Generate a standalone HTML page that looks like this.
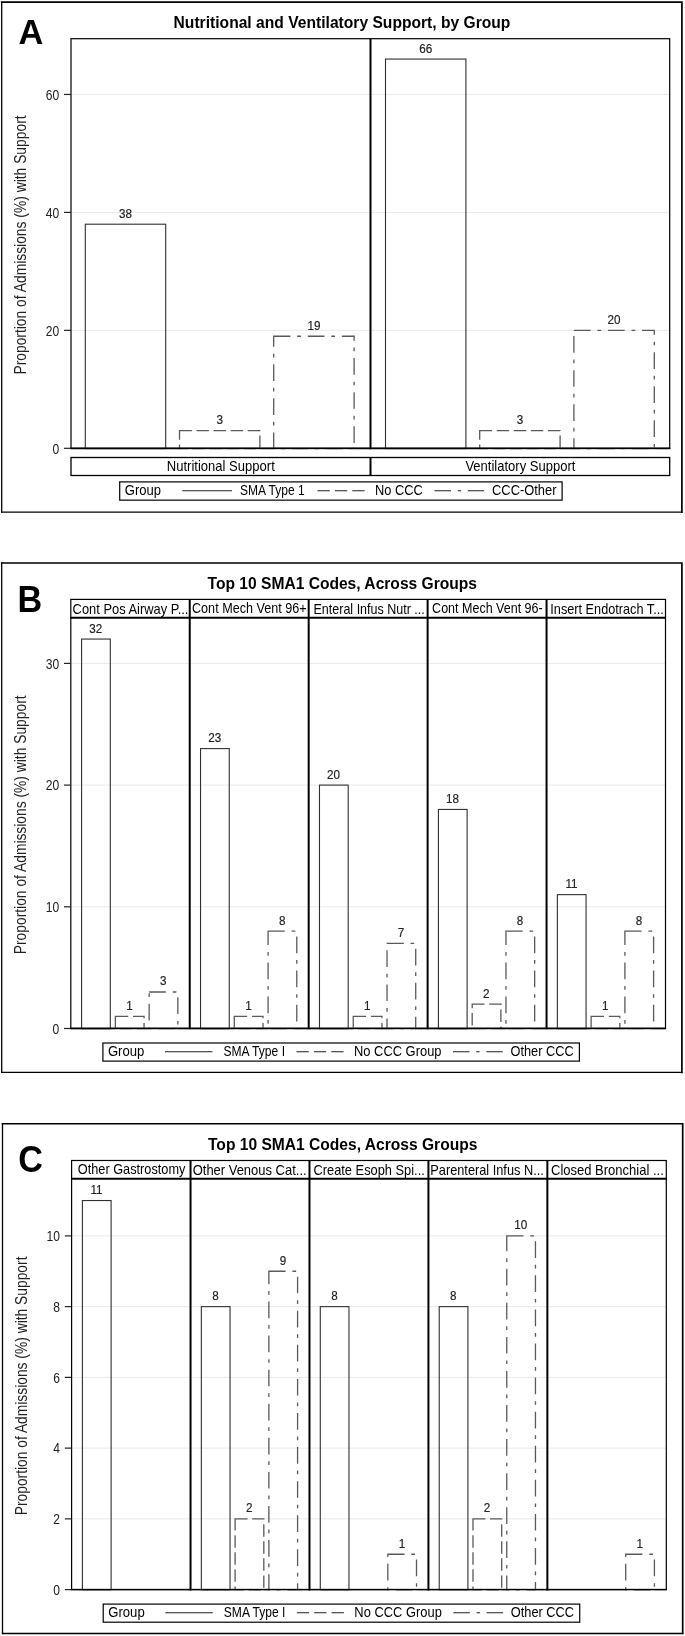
<!DOCTYPE html>
<html><head><meta charset="utf-8"><title>Figure</title>
<style>
html,body{margin:0;padding:0;background:#fff;}
body{width:685px;height:1636px;overflow:hidden;font-family:'Liberation Sans', sans-serif;}
text.bl{stroke:#222;stroke-width:0.18px;}
svg{display:block;will-change:transform;filter:grayscale(1);font-family:"Liberation Sans", sans-serif;}
</style></head><body>
<svg width="685" height="1636" viewBox="0 0 685 1636">
<rect x="0" y="0" width="685" height="1636" fill="#fff"/>
<path d="M1.7 512.2L1.7 2.1" stroke="#000" stroke-width="1.3" fill="none" stroke-linecap="square"/>
<path d="M1.7 512.2L681.9 512.2" stroke="#000" stroke-width="1.3" fill="none" stroke-linecap="square"/>
<path d="M1.7 2.1L681.9 2.1L681.9 512.2" stroke="#000" stroke-width="1.7" fill="none" stroke-linecap="square" stroke-linejoin="miter"/>
<text transform="translate(18.6 43.6) scale(0.955 1)" font-size="36" font-weight="bold">A</text>
<text x="342.0" y="28.1" font-size="15.6" text-anchor="middle" font-weight="bold" fill="#000" textLength="336.8" lengthAdjust="spacing">Nutritional and Ventilatory Support, by Group</text>
<line x1="71" y1="330.35" x2="669.7" y2="330.35" stroke="#e9e9e9" stroke-width="1"/>
<line x1="71" y1="212.4" x2="669.7" y2="212.4" stroke="#e9e9e9" stroke-width="1"/>
<line x1="71" y1="94.44999999999999" x2="669.7" y2="94.44999999999999" stroke="#e9e9e9" stroke-width="1"/>
<line x1="70.5" y1="448.4" x2="670.2" y2="448.4" stroke="#000" stroke-width="1.45"/>
<rect x="85.3" y="224.2" width="80.4" height="224.4" fill="none" stroke="#303030" stroke-width="1.1"/>
<text transform="translate(125.5 217.7) scale(0.9 1)" class="bl" font-size="13" text-anchor="middle" fill="#222">38</text>
<line x1="179.5" y1="448.9" x2="259.9" y2="448.9" stroke="#fff" stroke-width="1.0"/>
<rect x="179.5" y="430.61" width="80.4" height="17.99" fill="none" stroke="#5a5a5a" stroke-width="1.3" stroke-dasharray="12.4 4.65"/>
<text transform="translate(219.7 424.11) scale(0.9 1)" class="bl" font-size="13" text-anchor="middle" fill="#222">3</text>
<line x1="273.7" y1="448.9" x2="354.1" y2="448.9" stroke="#fff" stroke-width="1.0"/>
<rect x="273.7" y="336.25" width="80.4" height="112.35" fill="none" stroke="#5a5a5a" stroke-width="1.3" stroke-dasharray="16.7 6.84 3.7 6.84"/>
<text transform="translate(313.9 329.75) scale(0.9 1)" class="bl" font-size="13" text-anchor="middle" fill="#222">19</text>
<rect x="385.5" y="59.06" width="80.4" height="389.54" fill="none" stroke="#303030" stroke-width="1.1"/>
<text transform="translate(425.7 52.56) scale(0.9 1)" class="bl" font-size="13" text-anchor="middle" fill="#222">66</text>
<line x1="479.7" y1="448.9" x2="560.1" y2="448.9" stroke="#fff" stroke-width="1.0"/>
<rect x="479.7" y="430.61" width="80.4" height="17.99" fill="none" stroke="#5a5a5a" stroke-width="1.3" stroke-dasharray="12.4 4.65"/>
<text transform="translate(519.9 424.11) scale(0.9 1)" class="bl" font-size="13" text-anchor="middle" fill="#222">3</text>
<line x1="573.9" y1="448.9" x2="654.3" y2="448.9" stroke="#fff" stroke-width="1.0"/>
<rect x="573.9" y="330.35" width="80.4" height="118.25" fill="none" stroke="#5a5a5a" stroke-width="1.3" stroke-dasharray="16.7 6.84 3.7 6.84"/>
<text transform="translate(614.1 323.85) scale(0.9 1)" class="bl" font-size="13" text-anchor="middle" fill="#222">20</text>
<rect x="71" y="38.7" width="598.7" height="409.7" fill="none" stroke="#000" stroke-width="1.2"/>
<line x1="70.5" y1="448.09999999999997" x2="670.2" y2="448.09999999999997" stroke="#000" stroke-width="0.85"/>
<line x1="370.5" y1="38.7" x2="370.5" y2="449.2" stroke="#000" stroke-width="2"/>
<line x1="64" y1="448.3" x2="71" y2="448.3" stroke="#222" stroke-width="1.2"/>
<text transform="translate(59.2 453.6) scale(0.84 1)" font-size="14.4" text-anchor="end" fill="#222">0</text>
<line x1="64" y1="330.35" x2="71" y2="330.35" stroke="#222" stroke-width="1.2"/>
<text transform="translate(59.2 335.65) scale(0.84 1)" font-size="14.4" text-anchor="end" fill="#222">20</text>
<line x1="64" y1="212.4" x2="71" y2="212.4" stroke="#222" stroke-width="1.2"/>
<text transform="translate(59.2 217.7) scale(0.84 1)" font-size="14.4" text-anchor="end" fill="#222">40</text>
<line x1="64" y1="94.44999999999999" x2="71" y2="94.44999999999999" stroke="#222" stroke-width="1.2"/>
<text transform="translate(59.2 99.75) scale(0.84 1)" font-size="14.4" text-anchor="end" fill="#222">60</text>
<text x="26.3" y="374.6" font-size="16" text-anchor="start" font-weight="normal" fill="#222" textLength="259.2" lengthAdjust="spacingAndGlyphs" transform="rotate(-90 26.3 374.6)">Proportion of Admissions (%) with Support</text>
<rect x="71" y="457.5" width="598.7" height="18.0" fill="none" stroke="#000" stroke-width="1.3"/>
<line x1="370.5" y1="457.5" x2="370.5" y2="475.5" stroke="#000" stroke-width="2"/>
<text x="220.8" y="471.2" font-size="14.4" text-anchor="middle" font-weight="normal" fill="#000" textLength="108" lengthAdjust="spacingAndGlyphs">Nutritional Support</text>
<text x="520.4" y="471.2" font-size="14.4" text-anchor="middle" font-weight="normal" fill="#000" textLength="110" lengthAdjust="spacingAndGlyphs">Ventilatory Support</text>
<rect x="119.7" y="481.9" width="442.4" height="18.25" fill="#fff" stroke="#000" stroke-width="1.2"/>
<text x="124.8" y="495.2" font-size="14.4" text-anchor="start" font-weight="normal" fill="#000" textLength="36.2" lengthAdjust="spacingAndGlyphs">Group</text>
<line x1="182.3" y1="490.67499999999995" x2="232" y2="490.67499999999995" stroke="#222" stroke-width="1.1"/>
<text x="240" y="495.2" font-size="14.4" text-anchor="start" font-weight="normal" fill="#000" textLength="64.7" lengthAdjust="spacingAndGlyphs">SMA Type 1</text>
<line x1="317.5" y1="490.67499999999995" x2="365" y2="490.67499999999995" stroke="#222" stroke-width="1.1" stroke-dasharray="12.3 5.1"/>
<text x="375" y="495.2" font-size="14.4" text-anchor="start" font-weight="normal" fill="#000" textLength="47.8" lengthAdjust="spacingAndGlyphs">No CCC</text>
<line x1="434.5" y1="490.67499999999995" x2="484.2" y2="490.67499999999995" stroke="#222" stroke-width="1.1" stroke-dasharray="16.5 6.7 3.4 6.7"/>
<text x="492" y="495.2" font-size="14.4" text-anchor="start" font-weight="normal" fill="#000" textLength="64.5" lengthAdjust="spacingAndGlyphs">CCC-Other</text>
<g transform="translate(0 0)">
<path d="M1.7 1072.4L1.7 563" stroke="#000" stroke-width="1.3" fill="none" stroke-linecap="square"/>
<path d="M1.7 1072.4L681.9 1072.4" stroke="#000" stroke-width="1.3" fill="none" stroke-linecap="square"/>
<path d="M1.7 563L681.9 563L681.9 1072.4" stroke="#000" stroke-width="1.7" fill="none" stroke-linecap="square" stroke-linejoin="miter"/>
<text transform="translate(17.4 612.3) scale(0.95 1)" font-size="36" font-weight="bold">B</text>
<text x="342.3" y="588.7" font-size="15.6" text-anchor="middle" font-weight="bold" fill="#000" textLength="269.4" lengthAdjust="spacing">Top 10 SMA1 Codes, Across Groups</text>
<line x1="70.8" y1="906.8" x2="665.5" y2="906.8" stroke="#e9e9e9" stroke-width="1"/>
<line x1="70.8" y1="785.1" x2="665.5" y2="785.1" stroke="#e9e9e9" stroke-width="1"/>
<line x1="70.8" y1="663.4" x2="665.5" y2="663.4" stroke="#e9e9e9" stroke-width="1"/>
<line x1="70.3" y1="1028.5" x2="666.0" y2="1028.5" stroke="#000" stroke-width="1.45"/>
<rect x="81.6" y="639.06" width="28.7" height="389.64" fill="none" stroke="#303030" stroke-width="1.1"/>
<text transform="translate(95.7 632.56) scale(0.9 1)" class="bl" font-size="13" text-anchor="middle" fill="#222">32</text>
<line x1="115.37" y1="1029.0" x2="144.07" y2="1029.0" stroke="#fff" stroke-width="1.0"/>
<rect x="115.37" y="1016.33" width="28.7" height="12.37" fill="none" stroke="#5a5a5a" stroke-width="1.3" stroke-dasharray="12.84 4.82"/>
<text transform="translate(129.47 1009.83) scale(0.9 1)" class="bl" font-size="13" text-anchor="middle" fill="#222">1</text>
<line x1="149.14" y1="1029.0" x2="177.84" y2="1029.0" stroke="#fff" stroke-width="1.0"/>
<rect x="149.14" y="991.99" width="28.7" height="36.71" fill="none" stroke="#5a5a5a" stroke-width="1.3" stroke-dasharray="16.7 6.84 3.7 6.84"/>
<text transform="translate(163.24 985.49) scale(0.9 1)" class="bl" font-size="13" text-anchor="middle" fill="#222">3</text>
<rect x="200.54" y="748.59" width="28.7" height="280.11" fill="none" stroke="#303030" stroke-width="1.1"/>
<text transform="translate(214.64 742.09) scale(0.9 1)" class="bl" font-size="13" text-anchor="middle" fill="#222">23</text>
<line x1="234.31" y1="1029.0" x2="263.01" y2="1029.0" stroke="#fff" stroke-width="1.0"/>
<rect x="234.31" y="1016.33" width="28.7" height="12.37" fill="none" stroke="#5a5a5a" stroke-width="1.3" stroke-dasharray="12.84 4.82"/>
<text transform="translate(248.41 1009.83) scale(0.9 1)" class="bl" font-size="13" text-anchor="middle" fill="#222">1</text>
<line x1="268.08" y1="1029.0" x2="296.78" y2="1029.0" stroke="#fff" stroke-width="1.0"/>
<rect x="268.08" y="931.14" width="28.7" height="97.56" fill="none" stroke="#5a5a5a" stroke-width="1.3" stroke-dasharray="16.7 6.84 3.7 6.84"/>
<text transform="translate(282.18 924.64) scale(0.9 1)" class="bl" font-size="13" text-anchor="middle" fill="#222">8</text>
<rect x="319.48" y="785.1" width="28.7" height="243.6" fill="none" stroke="#303030" stroke-width="1.1"/>
<text transform="translate(333.58 778.6) scale(0.9 1)" class="bl" font-size="13" text-anchor="middle" fill="#222">20</text>
<line x1="353.25" y1="1029.0" x2="381.95" y2="1029.0" stroke="#fff" stroke-width="1.0"/>
<rect x="353.25" y="1016.33" width="28.7" height="12.37" fill="none" stroke="#5a5a5a" stroke-width="1.3" stroke-dasharray="12.84 4.82"/>
<text transform="translate(367.35 1009.83) scale(0.9 1)" class="bl" font-size="13" text-anchor="middle" fill="#222">1</text>
<line x1="387.02" y1="1029.0" x2="415.72" y2="1029.0" stroke="#fff" stroke-width="1.0"/>
<rect x="387.02" y="943.31" width="28.7" height="85.39" fill="none" stroke="#5a5a5a" stroke-width="1.3" stroke-dasharray="16.7 6.84 3.7 6.84"/>
<text transform="translate(401.12 936.81) scale(0.9 1)" class="bl" font-size="13" text-anchor="middle" fill="#222">7</text>
<rect x="438.42" y="809.44" width="28.7" height="219.26" fill="none" stroke="#303030" stroke-width="1.1"/>
<text transform="translate(452.52 802.94) scale(0.9 1)" class="bl" font-size="13" text-anchor="middle" fill="#222">18</text>
<line x1="472.19" y1="1029.0" x2="500.89" y2="1029.0" stroke="#fff" stroke-width="1.0"/>
<rect x="472.19" y="1004.16" width="28.7" height="24.54" fill="none" stroke="#5a5a5a" stroke-width="1.3" stroke-dasharray="12.4 4.65"/>
<text transform="translate(486.29 997.66) scale(0.9 1)" class="bl" font-size="13" text-anchor="middle" fill="#222">2</text>
<line x1="505.96" y1="1029.0" x2="534.66" y2="1029.0" stroke="#fff" stroke-width="1.0"/>
<rect x="505.96" y="931.14" width="28.7" height="97.56" fill="none" stroke="#5a5a5a" stroke-width="1.3" stroke-dasharray="16.7 6.84 3.7 6.84"/>
<text transform="translate(520.06 924.64) scale(0.9 1)" class="bl" font-size="13" text-anchor="middle" fill="#222">8</text>
<rect x="557.36" y="894.63" width="28.7" height="134.07" fill="none" stroke="#303030" stroke-width="1.1"/>
<text transform="translate(571.46 888.13) scale(0.9 1)" class="bl" font-size="13" text-anchor="middle" fill="#222">11</text>
<line x1="591.13" y1="1029.0" x2="619.83" y2="1029.0" stroke="#fff" stroke-width="1.0"/>
<rect x="591.13" y="1016.33" width="28.7" height="12.37" fill="none" stroke="#5a5a5a" stroke-width="1.3" stroke-dasharray="12.84 4.82"/>
<text transform="translate(605.23 1009.83) scale(0.9 1)" class="bl" font-size="13" text-anchor="middle" fill="#222">1</text>
<line x1="624.9" y1="1029.0" x2="653.6" y2="1029.0" stroke="#fff" stroke-width="1.0"/>
<rect x="624.9" y="931.14" width="28.7" height="97.56" fill="none" stroke="#5a5a5a" stroke-width="1.3" stroke-dasharray="16.7 6.84 3.7 6.84"/>
<text transform="translate(639.0 924.64) scale(0.9 1)" class="bl" font-size="13" text-anchor="middle" fill="#222">8</text>
<rect x="70.8" y="599.4" width="594.7" height="429.1" fill="none" stroke="#000" stroke-width="1.2"/>
<line x1="70.3" y1="617.7" x2="666.0" y2="617.7" stroke="#000" stroke-width="2"/>
<line x1="70.3" y1="1028.2" x2="666.0" y2="1028.2" stroke="#000" stroke-width="0.85"/>
<line x1="189.74" y1="599.4" x2="189.74" y2="1029.3" stroke="#000" stroke-width="2"/>
<line x1="308.68" y1="599.4" x2="308.68" y2="1029.3" stroke="#000" stroke-width="2"/>
<line x1="427.62000000000006" y1="599.4" x2="427.62000000000006" y2="1029.3" stroke="#000" stroke-width="2"/>
<line x1="546.5600000000001" y1="599.4" x2="546.5600000000001" y2="1029.3" stroke="#000" stroke-width="2"/>
<text x="130.5" y="613.8" font-size="14.4" text-anchor="middle" font-weight="normal" fill="#000" textLength="115.8" lengthAdjust="spacingAndGlyphs">Cont Pos Airway P...</text>
<text x="249.3" y="613.0" font-size="14.4" text-anchor="middle" font-weight="normal" fill="#000" textLength="114.6" lengthAdjust="spacingAndGlyphs">Cont Mech Vent 96+</text>
<text x="369.15" y="613.8" font-size="14.4" text-anchor="middle" font-weight="normal" fill="#000" textLength="111.3" lengthAdjust="spacingAndGlyphs">Enteral Infus Nutr ...</text>
<text x="487.4" y="613.0" font-size="14.4" text-anchor="middle" font-weight="normal" fill="#000" textLength="110.6" lengthAdjust="spacingAndGlyphs">Cont Mech Vent 96-</text>
<text x="607.05" y="613.8" font-size="14.4" text-anchor="middle" font-weight="normal" fill="#000" textLength="113.5" lengthAdjust="spacingAndGlyphs">Insert Endotrach T...</text>
<line x1="64" y1="1028.5" x2="70.8" y2="1028.5" stroke="#222" stroke-width="1.2"/>
<text transform="translate(59.2 1033.8) scale(0.84 1)" font-size="14.4" text-anchor="end" fill="#222">0</text>
<line x1="64" y1="906.8" x2="70.8" y2="906.8" stroke="#222" stroke-width="1.2"/>
<text transform="translate(59.2 912.1) scale(0.84 1)" font-size="14.4" text-anchor="end" fill="#222">10</text>
<line x1="64" y1="785.1" x2="70.8" y2="785.1" stroke="#222" stroke-width="1.2"/>
<text transform="translate(59.2 790.4) scale(0.84 1)" font-size="14.4" text-anchor="end" fill="#222">20</text>
<line x1="64" y1="663.4" x2="70.8" y2="663.4" stroke="#222" stroke-width="1.2"/>
<text transform="translate(59.2 668.7) scale(0.84 1)" font-size="14.4" text-anchor="end" fill="#222">30</text>
<text x="26.3" y="954.2" font-size="16" text-anchor="start" font-weight="normal" fill="#222" textLength="258.8" lengthAdjust="spacingAndGlyphs" transform="rotate(-90 26.3 954.2)">Proportion of Admissions (%) with Support</text>
<g transform="translate(0.0 0)">
<rect x="102.9" y="1043" width="476.5" height="18.1" fill="#fff" stroke="#000" stroke-width="1.2"/>
<text x="107.9" y="1056.3" font-size="14.4" text-anchor="start" font-weight="normal" fill="#000" textLength="36.5" lengthAdjust="spacingAndGlyphs">Group</text>
<line x1="165" y1="1051.7" x2="212.5" y2="1051.7" stroke="#222" stroke-width="1.1"/>
<text x="223.5" y="1056.3" font-size="14.4" text-anchor="start" font-weight="normal" fill="#000" textLength="61.5" lengthAdjust="spacingAndGlyphs">SMA Type I</text>
<line x1="296.5" y1="1051.7" x2="345" y2="1051.7" stroke="#222" stroke-width="1.1" stroke-dasharray="12.3 5.1"/>
<text x="354" y="1056.3" font-size="14.4" text-anchor="start" font-weight="normal" fill="#000" textLength="87.5" lengthAdjust="spacingAndGlyphs">No CCC Group</text>
<line x1="453" y1="1051.7" x2="503" y2="1051.7" stroke="#222" stroke-width="1.1" stroke-dasharray="16.5 6.7 3.4 6.7"/>
<text x="510.5" y="1056.3" font-size="14.4" text-anchor="start" font-weight="normal" fill="#000" textLength="63.2" lengthAdjust="spacingAndGlyphs">Other CCC</text>
</g>
</g>
<g transform="translate(0.8 0)">
<path d="M1.7 1633.5L1.7 1123.75" stroke="#000" stroke-width="1.3" fill="none" stroke-linecap="square"/>
<path d="M1.7 1633.5L681.9 1633.5" stroke="#000" stroke-width="1.3" fill="none" stroke-linecap="square"/>
<path d="M1.7 1123.75L681.9 1123.75L681.9 1633.5" stroke="#000" stroke-width="1.7" fill="none" stroke-linecap="square" stroke-linejoin="miter"/>
<text transform="translate(17.4 1172.3999999999999) scale(0.95 1)" font-size="36" font-weight="bold">C</text>
<text x="341.90000000000003" y="1149.8" font-size="15.6" text-anchor="middle" font-weight="bold" fill="#000" textLength="269.4" lengthAdjust="spacing">Top 10 SMA1 Codes, Across Groups</text>
<line x1="70.8" y1="1518.86" x2="665.5" y2="1518.86" stroke="#e9e9e9" stroke-width="1"/>
<line x1="70.8" y1="1448.12" x2="665.5" y2="1448.12" stroke="#e9e9e9" stroke-width="1"/>
<line x1="70.8" y1="1377.3799999999999" x2="665.5" y2="1377.3799999999999" stroke="#e9e9e9" stroke-width="1"/>
<line x1="70.8" y1="1306.6399999999999" x2="665.5" y2="1306.6399999999999" stroke="#e9e9e9" stroke-width="1"/>
<line x1="70.8" y1="1235.8999999999999" x2="665.5" y2="1235.8999999999999" stroke="#e9e9e9" stroke-width="1"/>
<line x1="70.3" y1="1589.6" x2="666.0" y2="1589.6" stroke="#000" stroke-width="1.45"/>
<rect x="81.6" y="1200.53" width="28.7" height="389.27" fill="none" stroke="#303030" stroke-width="1.1"/>
<text transform="translate(95.7 1194.03) scale(0.9 1)" class="bl" font-size="13" text-anchor="middle" fill="#222">11</text>
<rect x="200.54" y="1306.64" width="28.7" height="283.16" fill="none" stroke="#303030" stroke-width="1.1"/>
<text transform="translate(214.64 1300.14) scale(0.9 1)" class="bl" font-size="13" text-anchor="middle" fill="#222">8</text>
<line x1="234.31" y1="1590.1" x2="263.01" y2="1590.1" stroke="#fff" stroke-width="1.0"/>
<rect x="234.31" y="1518.86" width="28.7" height="70.94" fill="none" stroke="#5a5a5a" stroke-width="1.3" stroke-dasharray="12.4 4.65"/>
<text transform="translate(248.41 1512.36) scale(0.9 1)" class="bl" font-size="13" text-anchor="middle" fill="#222">2</text>
<line x1="268.08" y1="1590.1" x2="296.78" y2="1590.1" stroke="#fff" stroke-width="1.0"/>
<rect x="268.08" y="1271.27" width="28.7" height="318.53" fill="none" stroke="#5a5a5a" stroke-width="1.3" stroke-dasharray="16.7 6.84 3.7 6.84"/>
<text transform="translate(282.18 1264.77) scale(0.9 1)" class="bl" font-size="13" text-anchor="middle" fill="#222">9</text>
<rect x="319.48" y="1306.64" width="28.7" height="283.16" fill="none" stroke="#303030" stroke-width="1.1"/>
<text transform="translate(333.58 1300.14) scale(0.9 1)" class="bl" font-size="13" text-anchor="middle" fill="#222">8</text>
<line x1="387.02" y1="1590.1" x2="415.72" y2="1590.1" stroke="#fff" stroke-width="1.0"/>
<rect x="387.02" y="1554.23" width="28.7" height="35.57" fill="none" stroke="#5a5a5a" stroke-width="1.3" stroke-dasharray="16.7 6.84 3.7 6.84"/>
<text transform="translate(401.12 1547.73) scale(0.9 1)" class="bl" font-size="13" text-anchor="middle" fill="#222">1</text>
<rect x="438.42" y="1306.64" width="28.7" height="283.16" fill="none" stroke="#303030" stroke-width="1.1"/>
<text transform="translate(452.52 1300.14) scale(0.9 1)" class="bl" font-size="13" text-anchor="middle" fill="#222">8</text>
<line x1="472.19" y1="1590.1" x2="500.89" y2="1590.1" stroke="#fff" stroke-width="1.0"/>
<rect x="472.19" y="1518.86" width="28.7" height="70.94" fill="none" stroke="#5a5a5a" stroke-width="1.3" stroke-dasharray="12.4 4.65"/>
<text transform="translate(486.29 1512.36) scale(0.9 1)" class="bl" font-size="13" text-anchor="middle" fill="#222">2</text>
<line x1="505.96" y1="1590.1" x2="534.66" y2="1590.1" stroke="#fff" stroke-width="1.0"/>
<rect x="505.96" y="1235.9" width="28.7" height="353.9" fill="none" stroke="#5a5a5a" stroke-width="1.3" stroke-dasharray="16.7 6.84 3.7 6.84"/>
<text transform="translate(520.06 1229.4) scale(0.9 1)" class="bl" font-size="13" text-anchor="middle" fill="#222">10</text>
<line x1="624.9" y1="1590.1" x2="653.6" y2="1590.1" stroke="#fff" stroke-width="1.0"/>
<rect x="624.9" y="1554.23" width="28.7" height="35.57" fill="none" stroke="#5a5a5a" stroke-width="1.3" stroke-dasharray="16.7 6.84 3.7 6.84"/>
<text transform="translate(639.0 1547.73) scale(0.9 1)" class="bl" font-size="13" text-anchor="middle" fill="#222">1</text>
<rect x="70.8" y="1160.5" width="594.7" height="429.1" fill="none" stroke="#000" stroke-width="1.2"/>
<line x1="70.3" y1="1178.8" x2="666.0" y2="1178.8" stroke="#000" stroke-width="2"/>
<line x1="70.3" y1="1589.3" x2="666.0" y2="1589.3" stroke="#000" stroke-width="0.85"/>
<line x1="189.74" y1="1160.5" x2="189.74" y2="1590.3999999999999" stroke="#000" stroke-width="2"/>
<line x1="308.68" y1="1160.5" x2="308.68" y2="1590.3999999999999" stroke="#000" stroke-width="2"/>
<line x1="427.62000000000006" y1="1160.5" x2="427.62000000000006" y2="1590.3999999999999" stroke="#000" stroke-width="2"/>
<line x1="546.5600000000001" y1="1160.5" x2="546.5600000000001" y2="1590.3999999999999" stroke="#000" stroke-width="2"/>
<text x="130.8" y="1174.1" font-size="14.4" text-anchor="middle" font-weight="normal" fill="#000" textLength="107.6" lengthAdjust="spacingAndGlyphs">Other Gastrostomy</text>
<text x="248.85" y="1174.8999999999999" font-size="14.4" text-anchor="middle" font-weight="normal" fill="#000" textLength="113.9" lengthAdjust="spacingAndGlyphs">Other Venous Cat...</text>
<text x="368.35" y="1174.8999999999999" font-size="14.4" text-anchor="middle" font-weight="normal" fill="#000" textLength="111.3" lengthAdjust="spacingAndGlyphs">Create Esoph Spi...</text>
<text x="486.25" y="1174.8999999999999" font-size="14.4" text-anchor="middle" font-weight="normal" fill="#000" textLength="113.5" lengthAdjust="spacingAndGlyphs">Parenteral Infus N...</text>
<text x="606.6" y="1174.8999999999999" font-size="14.4" text-anchor="middle" font-weight="normal" fill="#000" textLength="112.8" lengthAdjust="spacingAndGlyphs">Closed Bronchial ...</text>
<line x1="64" y1="1589.6" x2="70.8" y2="1589.6" stroke="#222" stroke-width="1.2"/>
<text transform="translate(59.2 1594.9) scale(0.84 1)" font-size="14.4" text-anchor="end" fill="#222">0</text>
<line x1="64" y1="1518.86" x2="70.8" y2="1518.86" stroke="#222" stroke-width="1.2"/>
<text transform="translate(59.2 1524.16) scale(0.84 1)" font-size="14.4" text-anchor="end" fill="#222">2</text>
<line x1="64" y1="1448.12" x2="70.8" y2="1448.12" stroke="#222" stroke-width="1.2"/>
<text transform="translate(59.2 1453.42) scale(0.84 1)" font-size="14.4" text-anchor="end" fill="#222">4</text>
<line x1="64" y1="1377.3799999999999" x2="70.8" y2="1377.3799999999999" stroke="#222" stroke-width="1.2"/>
<text transform="translate(59.2 1382.68) scale(0.84 1)" font-size="14.4" text-anchor="end" fill="#222">6</text>
<line x1="64" y1="1306.6399999999999" x2="70.8" y2="1306.6399999999999" stroke="#222" stroke-width="1.2"/>
<text transform="translate(59.2 1311.94) scale(0.84 1)" font-size="14.4" text-anchor="end" fill="#222">8</text>
<line x1="64" y1="1235.8999999999999" x2="70.8" y2="1235.8999999999999" stroke="#222" stroke-width="1.2"/>
<text transform="translate(59.2 1241.2) scale(0.84 1)" font-size="14.4" text-anchor="end" fill="#222">10</text>
<text x="26.3" y="1515.3" font-size="16" text-anchor="start" font-weight="normal" fill="#222" textLength="258.8" lengthAdjust="spacingAndGlyphs" transform="rotate(-90 26.3 1515.3)">Proportion of Admissions (%) with Support</text>
<g transform="translate(-0.48 0)">
<rect x="102.9" y="1604.1" width="476.5" height="18.1" fill="#fff" stroke="#000" stroke-width="1.2"/>
<text x="107.9" y="1617.3999999999999" font-size="14.4" text-anchor="start" font-weight="normal" fill="#000" textLength="36.5" lengthAdjust="spacingAndGlyphs">Group</text>
<line x1="165" y1="1612.8" x2="212.5" y2="1612.8" stroke="#222" stroke-width="1.1"/>
<text x="223.5" y="1617.3999999999999" font-size="14.4" text-anchor="start" font-weight="normal" fill="#000" textLength="61.5" lengthAdjust="spacingAndGlyphs">SMA Type I</text>
<line x1="296.5" y1="1612.8" x2="345" y2="1612.8" stroke="#222" stroke-width="1.1" stroke-dasharray="12.3 5.1"/>
<text x="354" y="1617.3999999999999" font-size="14.4" text-anchor="start" font-weight="normal" fill="#000" textLength="87.5" lengthAdjust="spacingAndGlyphs">No CCC Group</text>
<line x1="453" y1="1612.8" x2="503" y2="1612.8" stroke="#222" stroke-width="1.1" stroke-dasharray="16.5 6.7 3.4 6.7"/>
<text x="510.5" y="1617.3999999999999" font-size="14.4" text-anchor="start" font-weight="normal" fill="#000" textLength="63.2" lengthAdjust="spacingAndGlyphs">Other CCC</text>
</g>
</g>
</svg>
</body></html>
